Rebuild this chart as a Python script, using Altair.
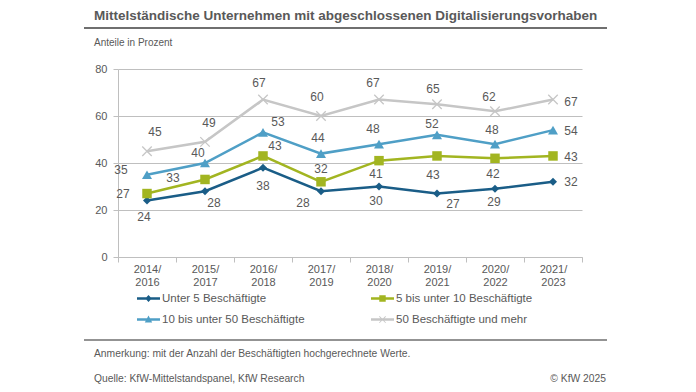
import altair as alt
import pandas as pd

# ---------------- data ----------------
periods = ["2014/2016", "2015/2017", "2016/2018", "2017/2019",
           "2018/2020", "2019/2021", "2020/2022", "2021/2023"]
series_names = ["Unter 5 Beschäftigte", "5 bis unter 10 Beschäftigte",
                "10 bis unter 50 Beschäftigte", "50 Beschäftigte und mehr"]
unter5 = [24, 28, 38, 28, 30, 27, 29, 32]
b5_10 = [27, 33, 43, 32, 41, 43, 42, 43]
b10_50 = [35, 40, 53, 44, 48, 52, 48, 54]
ab50 = [45, 49, 67, 60, 67, 65, 62, 67]

# ---------------- styling ----------------
colors = ["#1a5d87", "#a2b521", "#4f9fc6", "#c6c6c6"]
FONT = "Liberation Sans"
GREY = "#595959"
AXIS_GREY = "#bfbfbf"

label_offsets = {
    series_names[0]: [(-3, 16), (9, 12), (0, 18), (-18, 12), (-3, 14), (16, 10), (-1, 13), (18, 0)],
    series_names[1]: [(-24, 0), (-32, -1), (12, -10), (0, -13), (-3, 13), (-4, 19), (-2, 16), (18, 1)],
    series_names[2]: [(-26, -5), (-7, -10), (15, -10), (-3, -16), (-6, -15), (-5, -11), (-3, -14), (18, 1)],
    series_names[3]: [(8, -19), (4, -19), (-4, -17), (-4, -19), (-6, -17), (-4, -15), (-6, -14), (18, 2)],
}

rows = []
for s, vals in zip(series_names, [unter5, b5_10, b10_50, ab50]):
    for i, (p, v) in enumerate(zip(periods, vals)):
        dx, dy = label_offsets[s][i]
        rows.append({"series": s, "period": p, "value": v, "key": f"k{dx}x{dy}".replace("-", "m")})
df = pd.DataFrame(rows)

x_axis = alt.Axis(title=None, grid=False, labelAngle=0,
                  labelExpr="isString(datum.value) ? [substring(datum.value,0,5), substring(datum.value,5)] : ''",
                  labelFont=FONT, labelFontSize=11, labelColor=GREY, labelLineHeight=13,
                  labelPadding=1, tickBand="extent", ticks=True, tickSize=5,
                  tickColor=AXIS_GREY, domainColor=AXIS_GREY)
y_axis = alt.Axis(title=None, values=[0, 20, 40, 60, 80], grid=True, gridColor=AXIS_GREY,
                  tickSize=5, tickColor=AXIS_GREY, domainColor=AXIS_GREY,
                  labelFont=FONT, labelFontSize=11, labelColor=GREY, labelPadding=6)

x_enc = alt.X("period:N", sort=periods,
              scale=alt.Scale(type="band", domain=periods, paddingInner=0, paddingOuter=0),
              axis=x_axis)
y_enc = alt.Y("value:Q", scale=alt.Scale(domain=[0, 80], nice=False), axis=y_axis)

base = alt.Chart(df)

layers = []
for s, c in zip(series_names, colors):
    layers.append(base.transform_filter(alt.datum.series == s).mark_line(
        strokeWidth=2.5, color=c).encode(x=x_enc, y=y_enc))

X_PATH = "M-1,-1L1,1M1,-1L-1,1"
markers = [("diamond", 64, True, 1), ("square", 90, True, 1),
           ("triangle-up", 100, True, 1), (X_PATH, 90, False, 1.3)]
for s, c, (shape, size, filled, sw) in zip(series_names, colors, markers):
    layers.append(base.transform_filter(alt.datum.series == s).mark_point(
        shape=shape, size=size, filled=filled, color=c, opacity=1, strokeWidth=sw
    ).encode(x=x_enc, y=y_enc))

for key in df["key"].unique():
    dx, dy = (int(t.replace("m", "-")) for t in key[1:].split("x"))
    layers.append(base.transform_filter(alt.datum.key == key).mark_text(
        dx=dx, dy=dy, fontSize=12, font=FONT, color=GREY, align="center", baseline="middle"
    ).encode(x=x_enc, y=y_enc, text="value:Q"))

# legend: line + marker symbols (custom paths), from an empty layer.
# The legend grid is filled column by column, so order the entries accordingly.
LINE = "M-1,-0.11H1V0.11H-1Z"
legend_paths = [
    LINE + "M0,-0.3L0.28,0L0,0.3L-0.28,0Z",
    LINE + "M-0.28,-0.28H0.28V0.28H-0.28Z",
    LINE + "M0,-0.34L0.32,0.26H-0.32Z",
    LINE + "M-0.3,-0.25L-0.25,-0.3L0.3,0.25L0.25,0.3ZM0.25,-0.3L0.3,-0.25L-0.25,0.3L-0.3,0.25Z",
]
order = [0, 2, 1, 3]
leg_domain = [series_names[i] for i in order]
leg_colors = [colors[i] for i in order]
leg_paths = [legend_paths[i] for i in order]

leg = alt.Legend(title=None, orient="none", legendX=19, legendY=218, columns=2,
                 columnPadding=66, rowPadding=4, symbolSize=529, symbolStrokeWidth=0,
                 symbolOpacity=1, labelFont=FONT, labelFontSize=11.5, labelColor=GREY,
                 labelOffset=2, padding=0)
layers.append(base.transform_filter("false").mark_point(filled=True, opacity=1, size=529).encode(
    color=alt.Color("series:N", scale=alt.Scale(domain=leg_domain, range=leg_colors), legend=leg),
    shape=alt.Shape("series:N", scale=alt.Scale(domain=leg_domain, range=leg_paths), legend=leg)))

one = pd.DataFrame({"a": [0]})


def txt(t, x, y, size, bold=False, align="left"):
    return alt.Chart(one).mark_text(
        text=t, align=align, baseline="middle", fontSize=size,
        fontWeight="bold" if bold else "normal", font=FONT, color=GREY
    ).encode(x=alt.value(x), y=alt.value(y))


def rule(y, w, c):
    return alt.Chart(one).mark_rule(color=c, strokeWidth=w).encode(
        x=alt.value(-34), x2=alt.value(489), y=alt.value(y))


layers += [
    txt("Mittelständische Unternehmen mit abgeschlossenen Digitalisierungsvorhaben", -24, -53, 13.5, bold=True),
    txt("Anteile in Prozent", -24, -26, 10),
    rule(-41, 2, "#6f6f6f"),
    rule(271, 1.5, "#6f6f6f"),
    txt("Anmerkung: mit der Anzahl der Beschäftigten hochgerechnete Werte.", -24, 285, 10.3),
    txt("Quelle: KfW-Mittelstandspanel, KfW Research", -24, 310, 10.3),
    txt("© KfW 2025", 488, 310, 10.3, align="right"),
]

chart = alt.layer(*layers).properties(
    width=464, height=188, autosize="none",
    padding={"left": 110, "top": 61, "right": 100, "bottom": 127},
).configure_view(stroke=None)

chart.save("out.html", embed_options={"renderer": "svg", "actions": False})
